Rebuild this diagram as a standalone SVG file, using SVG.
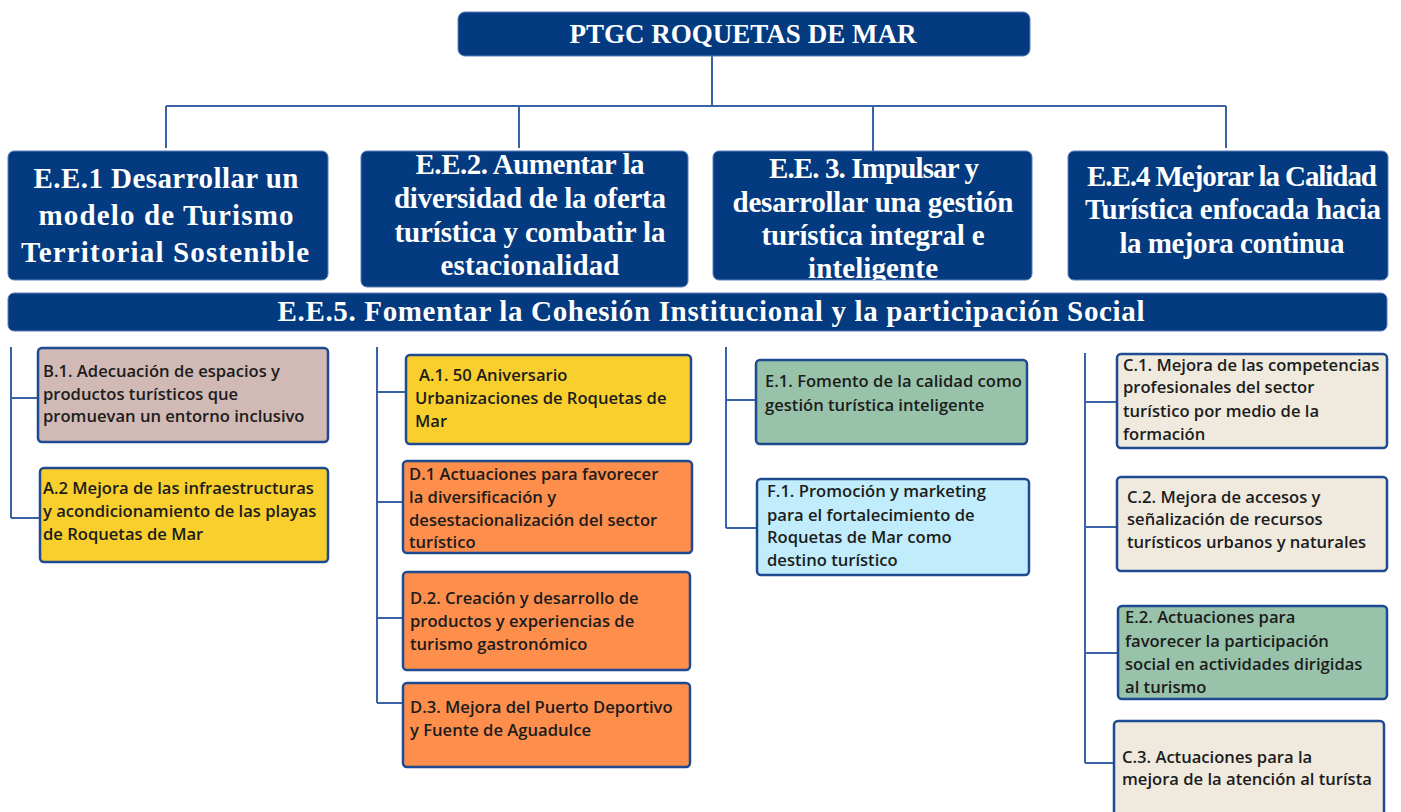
<svg xmlns="http://www.w3.org/2000/svg" width="1401" height="812" viewBox="0 0 1401 812">
<defs>
<style>
.hdr{fill:#033a80;stroke:#5a7fb8;stroke-width:1}
.ht{font-family:"Liberation Serif",serif;font-weight:bold;fill:#ffffff;text-anchor:middle}
.h28{font-size:29px}
.box{stroke:#1d4a90;stroke-width:2.5}
.bt{font-family:"Open Sans","Liberation Sans",sans-serif;font-weight:600;font-size:16.6px;fill:#1c1c1c}
.ln{stroke:#3a62a6;stroke-width:2;fill:none}
.rose{fill:#d1b9b5}.yel{fill:#f8cf2c}.org{fill:#fe8e4c}.grn{fill:#98c2a9}.cyan{fill:#c1ecfb}.beige{fill:#efe9de}
</style>
<clipPath id="c3"><rect x="713" y="151" width="319" height="129" rx="6"/></clipPath>
</defs>
<rect width="1401" height="812" fill="#ffffff"/>
<g id="connectors">
<path class="ln" d="M712 55V106M166 106H1226M166 106V148M519 106V148M873 106V151M1226 106V148"/>
<path class="ln" d="M11 347V518M11 398H37M11 518H39"/>
<path class="ln" d="M377 347V703M377 392H406M377 502H403M377 618H403M377 703H403"/>
<path class="ln" d="M726 347V528M726 400H756M726 528H757"/>
<path class="ln" d="M1085 353V763M1085 402H1117M1085 527H1117M1085 653H1118M1085 763H1114"/>
</g>
<g id="root">
<rect class="hdr" x="458" y="12" width="572" height="44" rx="7"/>
<text class="ht" x="743" y="43" font-size="27">PTGC ROQUETAS DE MAR</text>
</g>
<g id="ee1">
<rect class="hdr" x="8" y="151" width="320" height="129" rx="6"/>
<text class="ht h28"><tspan x="166" y="188" textLength="265">E.E.1 Desarrollar un</tspan><tspan x="166" y="225" textLength="255">modelo de Turismo</tspan><tspan x="165" y="262" textLength="288">Territorial Sostenible</tspan></text>
</g>
<g id="ee2">
<rect class="hdr" x="361" y="151" width="327" height="136" rx="6"/>
<text class="ht h28"><tspan x="530" y="174" textLength="229">E.E.2. Aumentar la</tspan><tspan x="530" y="208" textLength="272">diversidad de la oferta</tspan><tspan x="530" y="242" textLength="271">turística y combatir la</tspan><tspan x="530" y="275" textLength="179">estacionalidad</tspan></text>
</g>
<g id="ee3">
<rect class="hdr" x="713" y="151" width="319" height="129" rx="6"/>
<text class="ht h28" clip-path="url(#c3)"><tspan x="874" y="178" textLength="210">E.E. 3. Impulsar y</tspan><tspan x="873" y="212" textLength="281">desarrollar una gestión</tspan><tspan x="873" y="245" textLength="223">turística integral e</tspan><tspan x="873" y="278" textLength="130">inteligente</tspan></text>
</g>
<g id="ee4">
<rect class="hdr" x="1068" y="151" width="320" height="129" rx="6"/>
<text class="ht h28"><tspan x="1232" y="186" textLength="290">E.E.4 Mejorar la Calidad</tspan><tspan x="1233" y="219" textLength="296">Turística enfocada hacia</tspan><tspan x="1232" y="253" textLength="225">la mejora continua</tspan></text>
</g>
<g id="ee5">
<rect class="hdr" x="8" y="293" width="1379" height="38" rx="6"/>
<text class="ht h28" x="711" y="321" textLength="867">E.E.5. Fomentar la Cohesión Institucional y la participación Social</text>
</g>
<g id="b1">
<rect class="box rose" x="38" y="348" width="290" height="94" rx="4"/>
<text class="bt"><tspan x="43" y="377">B.1. Adecuación de espacios y</tspan><tspan x="43" y="400">productos turísticos que</tspan><tspan x="43" y="422">promuevan un entorno inclusivo</tspan></text>
</g>
<g id="a2">
<rect class="box yel" x="40" y="468" width="288" height="94" rx="4"/>
<text class="bt"><tspan x="43" y="494">A.2 Mejora de las infraestructuras</tspan><tspan x="43" y="517">y acondicionamiento de las playas</tspan><tspan x="43" y="540">de Roquetas de Mar</tspan></text>
</g>
<g id="a1">
<rect class="box yel" x="406" y="355" width="285" height="89" rx="4"/>
<text class="bt"><tspan x="419" y="381">A.1. 50 Aniversario</tspan><tspan x="415" y="404">Urbanizaciones de Roquetas de</tspan><tspan x="415" y="427">Mar</tspan></text>
</g>
<g id="d1">
<rect class="box org" x="403" y="461" width="289" height="92" rx="4"/>
<text class="bt"><tspan x="409" y="480">D.1 Actuaciones para favorecer</tspan><tspan x="409" y="503">la diversificación y</tspan><tspan x="409" y="526">desestacionalización del sector</tspan><tspan x="409" y="548">turístico</tspan></text>
</g>
<g id="d2">
<rect class="box org" x="403" y="572" width="287" height="98" rx="4"/>
<text class="bt"><tspan x="410" y="604">D.2. Creación y desarrollo de</tspan><tspan x="410" y="627">productos y experiencias de</tspan><tspan x="410" y="650">turismo gastronómico</tspan></text>
</g>
<g id="d3">
<rect class="box org" x="403" y="683" width="287" height="84" rx="4"/>
<text class="bt"><tspan x="410" y="713">D.3. Mejora del Puerto Deportivo</tspan><tspan x="410" y="736">y Fuente de Aguadulce</tspan></text>
</g>
<g id="e1">
<rect class="box grn" x="756" y="360" width="271" height="84" rx="4"/>
<text class="bt"><tspan x="765" y="387">E.1. Fomento de la calidad como</tspan><tspan x="765" y="411">gestión turística inteligente</tspan></text>
</g>
<g id="f1">
<rect class="box cyan" x="757" y="479" width="272" height="96" rx="4"/>
<text class="bt"><tspan x="767" y="497">F.1. Promoción y marketing</tspan><tspan x="767" y="521">para el fortalecimiento de</tspan><tspan x="767" y="543">Roquetas de Mar como</tspan><tspan x="767" y="566">destino turístico</tspan></text>
</g>
<g id="c1">
<rect class="box beige" x="1117" y="354" width="270" height="94" rx="4"/>
<text class="bt"><tspan x="1123" y="371">C.1. Mejora de las competencias</tspan><tspan x="1123" y="393">profesionales del sector</tspan><tspan x="1123" y="417">turístico por medio de la</tspan><tspan x="1123" y="440">formación</tspan></text>
</g>
<g id="c2">
<rect class="box beige" x="1117" y="477" width="270" height="94" rx="4"/>
<text class="bt"><tspan x="1127" y="503">C.2. Mejora de accesos y</tspan><tspan x="1127" y="525">señalización de recursos</tspan><tspan x="1127" y="548">turísticos urbanos y naturales</tspan></text>
</g>
<g id="e2">
<rect class="box grn" x="1118" y="606" width="269" height="93" rx="4"/>
<text class="bt"><tspan x="1125" y="623">E.2. Actuaciones para</tspan><tspan x="1125" y="647">favorecer la participación</tspan><tspan x="1125" y="670">social en actividades dirigidas</tspan><tspan x="1125" y="693">al turismo</tspan></text>
</g>
<g id="c3box">
<rect class="box beige" x="1114" y="721" width="270" height="100" rx="4"/>
<text class="bt"><tspan x="1122" y="763">C.3. Actuaciones para la</tspan><tspan x="1122" y="785">mejora de la atención al turísta</tspan></text>
</g>
</svg>
